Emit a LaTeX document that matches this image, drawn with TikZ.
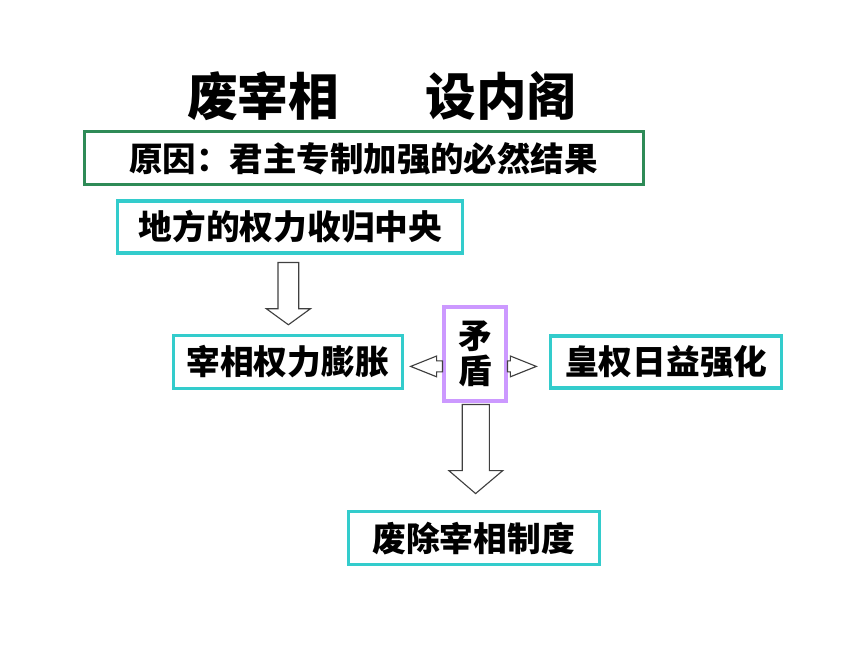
\documentclass[tikz,border=0pt]{standalone}
\usepackage{fontspec}
\newfontfamily\cjk{Noto Sans CJK SC}
\usetikzlibrary{calc}
\definecolor{boxgreen}{RGB}{46,139,87}
\definecolor{boxcyan}{RGB}{51,204,204}
\definecolor{boxpurple}{RGB}{204,153,255}
\tikzset{
	box/.style={draw=boxcyan, line width=2.2pt, inner sep=0pt, minimum height=1.3cm,
		font=\cjk\bfseries\fontsize{24}{28}\selectfont},
	causebox/.style={box, draw=boxgreen, font=\cjk\bfseries\fontsize{23.8}{28}\selectfont},
	clashbox/.style={box, draw=boxpurple, align=center, font=\cjk\bfseries\fontsize{24}{25}\selectfont},
	titletext/.style={inner sep=0pt, font=\cjk\bfseries\fontsize{36}{40}\selectfont},
	blockarrow/.style={draw=black!75, line width=0.8pt, fill=white, line join=miter}
}
% block arrow down: (top) (tip) shaft half width, head half width, head length
\def\vblock(#1)(#2)#3#4#5{\draw[blockarrow] let \p1=(#1), \p2=(#2) in
	(\x1-#3,\y1) -- (\x1+#3,\y1) -- (\x1+#3,\y2+#5) -- (\x1+#4,\y2+#5) -- (\x2,\y2)
	-- (\x1-#4,\y2+#5) -- (\x1-#3,\y2+#5) -- cycle;}
% block arrow sideways: (root) (tip) shaft half width, head half width, head length (signed)
\def\hblock(#1)(#2)#3#4#5{\draw[blockarrow] let \p1=(#1), \p2=(#2) in
	(\x1,\y1-#3) -- (\x2-#5,\y1-#3) -- (\x2-#5,\y1-#4) -- (\x2,\y2)
	-- (\x2-#5,\y1+#4) -- (\x2-#5,\y1+#3) -- (\x1,\y1+#3) -- cycle;}

\begin{document}
\begin{tikzpicture}
	%%%%% START %%%%%
	\useasboundingbox (0, 0) rectangle (21.5, -16.125);
	
	\node[titletext] (feizai) at (6.575, -2.4) {废宰相};
	\node[titletext] (shenei) at (12.54, -2.4) {设内阁};
	
	\node[causebox, minimum width=13.975cm, minimum height=1.325cm] (yuanyin) at (9.09, -3.96) {原因：君主专制加强的必然结果};
	\node[box, minimum width=8.625cm] (difang) at (7.26, -5.675) {地方的权力收归中央};
	\node[box, minimum width=5.725cm, minimum height=1.325cm] (pengzhang) at (7.19, -9.04) {宰相权力膨胀};
	\node[clashbox, minimum width=1.55cm, minimum height=2.35cm] (maodun) at (11.875, -8.85) {矛\\盾};
	\node[box, minimum width=5.775cm] (huangquan) at (16.66, -9.05) {皇权日益强化};
	\node[box, minimum width=6.275cm, minimum height=1.325cm] (feichu) at (11.84, -13.46) {废除宰相制度};
	
	% arrows
	\coordinate (a1top) at ($(difang.south)+(-0.05, -0.2)$);
	\coordinate (a1tip) at ($(pengzhang.north)+(0.02, 0.22)$);
	\vblock(a1top)(a1tip){0.26cm}{0.55cm}{0.4cm}
	
	\coordinate (a2top) at ($(maodun.south)+(0.02, -0.05)$);
	\coordinate (a2tip) at ($(feichu.north)+(0.05, 0.42)$);
	\vblock(a2top)(a2tip){0.34cm}{0.675cm}{0.575cm}
	
	\coordinate (a3root) at ($(maodun.west)+(0, -0.31)$);
	\coordinate (a3tip) at ($(pengzhang.east)+(0.175, -0.12)$);
	\hblock(a3root)(a3tip){0.1375cm}{0.26cm}{-0.65cm}
	
	\coordinate (a4root) at ($(maodun.east)+(0, -0.31)$);
	\coordinate (a4tip) at ($(huangquan.west)+(-0.325, -0.11)$);
	\hblock(a4root)(a4tip){0.1375cm}{0.26cm}{0.65cm}
	
	%%%%% END %%%%%
\end{tikzpicture}
\end{document}
